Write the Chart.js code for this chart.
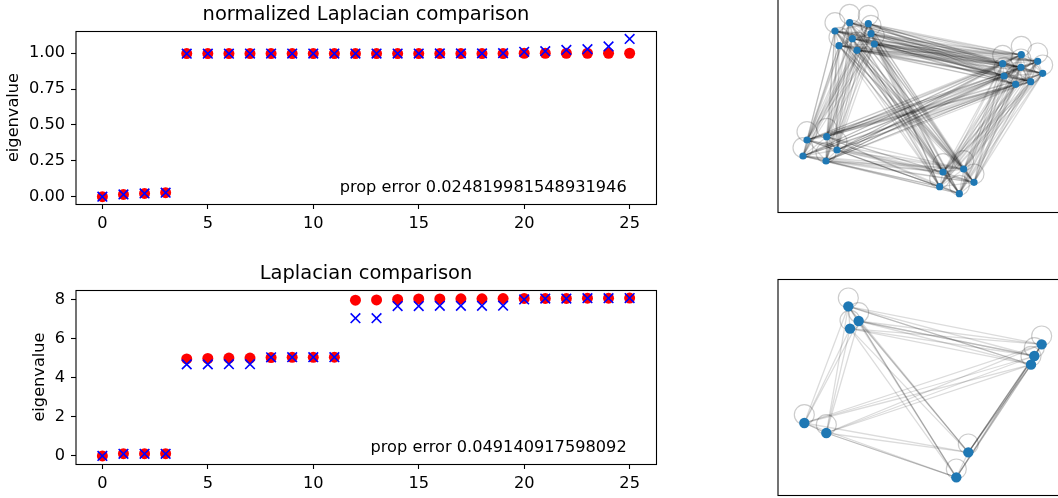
<!DOCTYPE html>
<html>
<head>
<meta charset="utf-8">
<script src="https://cdn.jsdelivr.net/npm/chart.js@4"></script>
<style>
  html, body { margin: 0; padding: 0; background: #fff; overflow: hidden; width: 1058px; height: 498px; }
  canvas { position: absolute; }
</style>
</head>
<body>
<canvas id="normChart" width="732" height="240" style="left:0px;top:0px"></canvas>
<canvas id="lapChart" width="732" height="241" style="left:0px;top:259px"></canvas>
<canvas id="graphTop" width="330" height="240" style="left:770px;top:-24px"></canvas>
<canvas id="graphBottom" width="330" height="230" style="left:770px;top:270px"></canvas>
<script>
const FONT = 'DejaVu Sans';
const TICK_SIZE = 16.2;

const indices = [0, 1, 2, 3, 4, 5, 6, 7, 8, 9, 10, 11, 12, 13, 14, 15, 16, 17, 18, 19, 20, 21, 22, 23, 24, 25];
const xTicks = [0, 5, 10, 15, 20, 25];

const normTicks = [0, 0.25, 0.5, 0.75, 1];
const normRed = [0, 0.016, 0.023, 0.028, 0.998, 0.998, 0.998, 0.998, 0.998, 0.998, 0.998, 0.998, 0.998, 0.998, 0.998, 0.998, 0.998, 0.998, 0.998, 0.998, 1, 1, 1, 1, 1, 1];
const normBlue = [0, 0.016, 0.023, 0.028, 0.997, 0.997, 0.997, 0.998, 0.998, 0.998, 0.998, 0.998, 0.998, 0.998, 0.998, 0.998, 0.999, 0.999, 0.999, 1, 1.01, 1.014, 1.023, 1.028, 1.047, 1.1];

const lapTicks = [0, 2, 4, 6, 8];
const lapRed = [0, 0.12, 0.12, 0.12, 4.96, 4.98, 5, 5, 5.03, 5.04, 5.04, 5.05, 7.96, 7.97, 8, 8.02, 8.02, 8.03, 8.03, 8.04, 8.05, 8.05, 8.05, 8.06, 8.06, 8.07];
const lapBlue = [0, 0.11, 0.11, 0.11, 4.68, 4.68, 4.69, 4.69, 5.04, 5.05, 5.05, 5.05, 7.04, 7.04, 7.66, 7.66, 7.67, 7.67, 7.67, 7.68, 8, 8.04, 8.04, 8.06, 8.06, 8.07];

const normNote = 'prop error 0.024819981548931946';
const lapNote = 'prop error 0.049140917598092';

// node layout of the two graphs, in layout units
const topNodeX = [195, 239, 295, 303, 247, 313, 207, 261, 754, 698, 803, 753, 818, 702, 782, 737, 111, 170, 201, 99, 168, 519, 581, 612, 509, 568];
const topNodeY = [93, 68, 71, 101, 116, 132, 137, 151, 164, 191, 184, 202, 220, 228, 245, 253, 420, 410, 450, 468, 483, 516, 507, 547, 560, 581];
const bottomNodeX = [235, 266, 240, 815, 793, 783, 103, 169, 595, 559];
const bottomNodeY = [109, 153, 176, 223, 258, 284, 459, 489, 547, 622];
// node pairs that carry a second, parallel edge in the small graph
const bottomDoubled = [[1, 9], [1, 8], [7, 9], [3, 8], [4, 8], [5, 8], [5, 9], [0, 1], [6, 7], [3, 4], [1, 4], [0, 5]];

// outline of the axes box, every chart has all four sides
const spines = {
  id: 'spines',
  afterDraw(chart) {
    const { ctx, chartArea: a } = chart;
    ctx.save();
    ctx.strokeStyle = '#000';
    ctx.lineWidth = 1.1;
    ctx.strokeRect(a.left, a.top + 0.5, a.right - a.left + 0.5, a.bottom - a.top);
    ctx.restore();
  }
};

const note = {
  id: 'note',
  afterDatasetsDraw(chart, args, opts) {
    if (!opts.text) return;
    const { ctx, scales } = chart;
    ctx.save();
    ctx.font = TICK_SIZE + 'px "' + FONT + '"';
    ctx.fillStyle = '#000';
    ctx.textAlign = 'right';
    ctx.textBaseline = 'alphabetic';
    ctx.fillText(opts.text, scales.x.getPixelForValue(opts.x), scales.y.getPixelForValue(opts.y));
    ctx.restore();
  }
};

function toPoints(values) {
  return values.map((v, i) => ({ x: indices[i], y: v }));
}

function comparisonChart(id, title, red, blue, ticks, yMin, yMax, decimals, labelGap, text, noteY) {
  new Chart(document.getElementById(id), {
    type: 'scatter',
    data: {
      datasets: [
        { data: toPoints(red), order: 2, pointStyle: 'circle', pointRadius: 5.5, backgroundColor: '#ff0000', borderWidth: 0 },
        { data: toPoints(blue), order: 1, pointStyle: 'crossRot', pointRadius: 6.8, borderColor: '#0000ff', backgroundColor: '#0000ff', pointBorderWidth: 1.6 }
      ]
    },
    options: {
      responsive: false,
      animation: false,
      layout: { autoPadding: false },
      plugins: {
        legend: { display: false },
        tooltip: { enabled: false },
        title: {
          display: true,
          text: title,
          color: '#000',
          font: { family: FONT, size: 19.47, weight: 'normal' },
          padding: { top: 3.5, bottom: 4.14 }
        },
        note: { text: text, x: 24.86, y: noteY }
      },
      scales: {
        x: {
          type: 'linear',
          min: -1.25,
          max: 26.25,
          afterBuildTicks: s => { s.ticks = xTicks.map(v => ({ value: v })); },
          afterFit: s => { s.height = 36; },
          grid: { drawOnChartArea: false, tickLength: 5, tickColor: '#000', tickWidth: 1.1 },
          border: { display: false },
          ticks: { color: '#000', padding: 5, maxRotation: 0, font: { family: FONT, size: TICK_SIZE } }
        },
        y: {
          type: 'linear',
          min: yMin,
          max: yMax,
          afterBuildTicks: s => { s.ticks = ticks.map(v => ({ value: v })); },
          afterFit: s => { s.width = 76; },
          grid: { drawOnChartArea: false, tickLength: 5, tickColor: '#000', tickWidth: 1.1 },
          border: { display: false },
          ticks: { color: '#000', padding: 6, font: { family: FONT, size: TICK_SIZE }, callback: v => v.toFixed(decimals) },
          title: { display: true, text: 'eigenvalue', color: '#000', padding: { top: labelGap, bottom: 0 }, font: { family: FONT, size: TICK_SIZE } }
        },
        // empty gutter on the right so the title centres over the plot
        yGutter: {
          type: 'linear',
          position: 'right',
          afterFit: s => { s.width = 76; },
          grid: { display: false },
          border: { display: false },
          ticks: { display: false }
        }
      }
    },
    plugins: [spines, note]
  });
}

function graphChart(id, nodeX, nodeY, doubled, xMin, xMax, yMin, yMax, top, bottom, nodeSize) {
  const datasets = [];
  const addEdge = (i, j) => {
    datasets.push({
      data: [{ x: nodeX[i], y: nodeY[i] }, { x: nodeX[j], y: nodeY[j] }],
      showLine: true,
      order: 3,
      borderColor: 'rgba(0,0,0,0.14)',
      borderWidth: 1.3,
      pointRadius: 0
    });
  };
  for (let i = 0; i < nodeX.length; i++) {
    for (let j = i + 1; j < nodeX.length; j++) {
      addEdge(i, j);
    }
  }
  doubled.forEach(p => addEdge(p[0], p[1]));
  // self loops sit just above their node
  datasets.push({
    data: nodeX.map((x, i) => ({ x: x, y: nodeY[i] - 25 })),
    order: 2,
    pointRadius: 10,
    backgroundColor: 'rgba(0,0,0,0)',
    borderColor: 'rgba(0,0,0,0.2)',
    pointBorderWidth: 1.2
  });
  datasets.push({
    data: nodeX.map((x, i) => ({ x: x, y: nodeY[i] })),
    order: 1,
    pointRadius: nodeSize,
    backgroundColor: '#1f78b4',
    borderWidth: 0
  });
  new Chart(document.getElementById(id), {
    type: 'scatter',
    data: { datasets: datasets },
    options: {
      responsive: false,
      animation: false,
      layout: { autoPadding: false, padding: { left: 8, right: 0, top: top, bottom: bottom } },
      plugins: { legend: { display: false }, tooltip: { enabled: false } },
      scales: {
        x: { type: 'linear', min: xMin, max: xMax, afterFit: s => { s.height = 0; }, grid: { display: false }, border: { display: false }, ticks: { display: false } },
        y: { type: 'linear', reverse: true, min: yMin, max: yMax, afterFit: s => { s.width = 0; }, grid: { display: false }, border: { display: false }, ticks: { display: false } }
      }
    },
    plugins: [spines]
  });
}

comparisonChart('normChart', 'normalized Laplacian comparison', normRed, normBlue, normTicks, -0.051, 1.155, 2, 4, normNote, 0.033);
comparisonChart('lapChart', 'Laplacian comparison', lapRed, lapBlue, lapTicks, -0.41, 8.48, 0, 30, lapNote, 0.2);

graphChart('graphTop', topNodeX, topNodeY, [], 24, 990, -12, 636, 20, 4, 3.6);
graphChart('graphBottom', bottomNodeX, bottomNodeY, bottomDoubled, 24, 990, 27, 675, 9, 5, 5.2);
</script>
</body>
</html>
